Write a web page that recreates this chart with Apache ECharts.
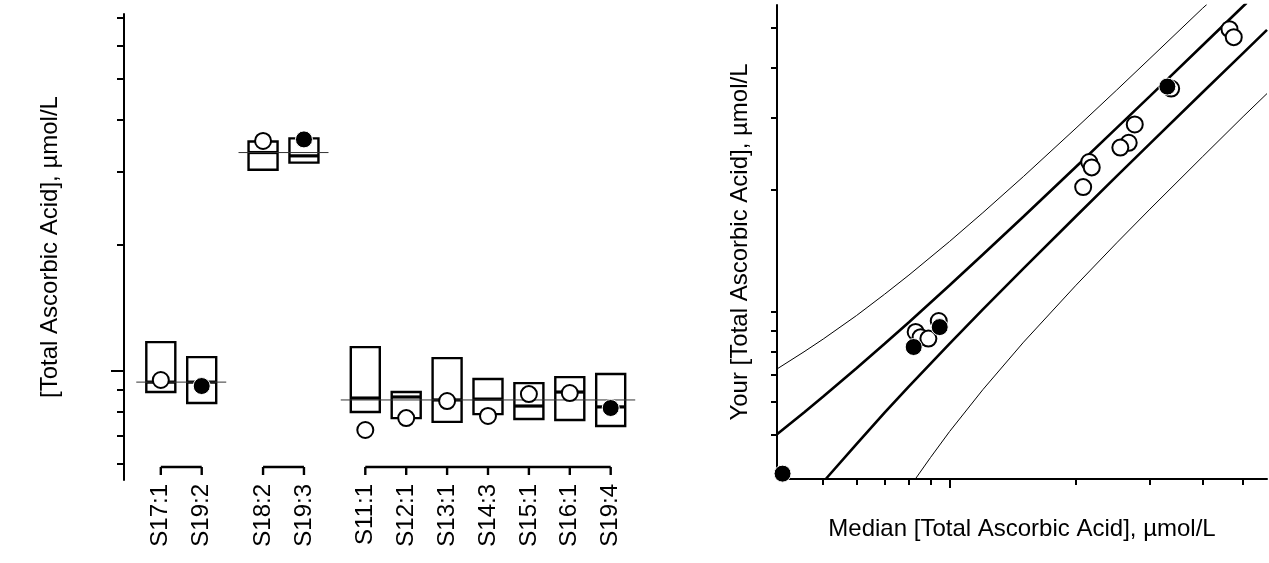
<!DOCTYPE html>
<html>
<head>
<meta charset="utf-8">
<title>Total Ascorbic Acid</title>
<script src="https://cdn.jsdelivr.net/npm/echarts@6/dist/echarts.min.js"></script>
<style>
  html, body { margin: 0; padding: 0; background: #fff; }
  #chart { width: 1269px; height: 563px; }
</style>
</head>
<body>
<div id="chart"></div>
<script>
// ---- Left panel: sample results against the community distribution ----
const categories = ['S17:1', 'S19:2', 'S18:2', 'S19:3', 'S11:1', 'S12:1', 'S13:1', 'S14:3', 'S15:1', 'S16:1', 'S19:4'];
const categoryPositions = [0, 1, 2.5, 3.5, 5, 6, 7, 8, 9, 10, 11];
const boxLow = [8.91, 8.39, 30.3, 31.5, 7.98, 7.72, 7.56, 7.89, 7.68, 7.64, 7.39];
const boxHigh = [11.73, 10.80, 35.4, 36.0, 11.41, 8.91, 10.74, 9.57, 9.36, 9.67, 9.84];
const boxMedian = [9.41, 9.41, 33.3, 32.7, 8.62, 8.67, 8.53, 8.57, 8.25, 8.91, 8.21];
const yourResult = [9.52, 9.21, 35.5, 35.8, 7.23, 7.72, 8.48, 7.81, 8.81, 8.86, 8.16];
const currentRound = [false, true, false, true, false, false, false, false, false, false, true];
// sample groups (first and last category index) and their consensus values
const groupFirst = [0, 2, 4];
const groupLast = [1, 3, 10];
const groupConsensus = [9.41, 33.3, 8.53];
const leftTicks = [6, 7, 8, 9, 20, 30, 40, 50, 60, 70];
const leftMajorTicks = [10];

// ---- Right panel: your result versus the community median ----
const pastMedian = [46.4, 47.5, 33.7, 27.6, 26.7, 25.5, 21.5, 21.8, 20.8, 8.30, 8.53, 8.90, 9.42];
const pastYours = [49.7, 47.5, 35.5, 28.96, 26.1, 25.4, 23.4, 22.7, 20.3, 8.93, 8.67, 8.60, 9.50];
const nowMedian = [33.0, 8.21, 9.47, 4.0];
const nowYours = [35.9, 8.20, 9.18, 4.0];
const upperOuter = [[3.88, 7.24], [4.5, 7.98], [5, 8.58], [6, 9.80], [7, 11.06], [8, 12.33], [10, 14.92], [12, 17.56], [15, 21.57], [20, 28.36], [25, 35.2], [30, 42.1], [40, 55.9], [41, 57.2]];
const upperInner = [[3.88, 5.0], [4.5, 5.66], [5, 6.19], [6, 7.27], [7, 8.35], [8, 9.44], [10, 11.64], [12, 13.85], [15, 17.19], [20, 22.79], [25, 28.4], [30, 34.0], [40, 45.3], [50, 56.6], [51, 57.7]];
const lowerInner = [[5.07, 3.88], [6, 4.73], [7, 5.65], [8, 6.56], [10, 8.36], [12, 10.15], [15, 12.81], [20, 17.21], [25, 21.6], [30, 25.97], [40, 34.7], [50, 43.4], [57, 49.5]];
const lowerOuter = [[8.3, 3.89], [9, 4.38], [10, 5.08], [12, 6.44], [15, 8.43], [20, 11.64], [25, 14.8], [30, 17.92], [40, 24.1], [50, 30.27], [57, 34.5]];
const rightTicks = [5, 6, 7, 8, 9, 20, 30, 40, 50];
const rightMajorTicks = [10];

const FONT = "'Liberation Sans', Arial, sans-serif";
const BLACK = '#000';
const leftMin = 5.49, leftMax = 71.4;
const rightMin = 3.88, rightMax = 57;

const boxData = categoryPositions.map((p, i) => [p, boxLow[i], boxHigh[i], boxMedian[i]]);
const consensusData = groupFirst.map((f, g) => [categoryPositions[f], categoryPositions[groupLast[g]], groupConsensus[g]]);
const bracketData = groupFirst.map((f, g) => [f, groupLast[g], leftMin]);
const openLeft = [], filledLeft = [];
categoryPositions.forEach((p, i) => (currentRound[i] ? filledLeft : openLeft).push([p, yourResult[i]]));
const openRight = pastMedian.map((m, i) => [m, pastYours[i]]);
const filledRight = nowMedian.map((m, i) => [m, nowYours[i]]);

function tickAxis(base, extra) {
  return Object.assign({}, base, extra);
}

const leftY = {
  gridIndex: 0, type: 'log', logBase: 10, min: leftMin, max: leftMax, position: 'left', offset: 0,
  axisLabel: { show: false }, splitLine: { show: false }
};
const rightScale = { type: 'log', logBase: 10, min: rightMin, max: rightMax, offset: 0, axisLabel: { show: false }, splitLine: { show: false } };
const openStyle = { color: '#fff', borderColor: BLACK, borderWidth: 2, opacity: 1 };
const filledStyle = { color: BLACK, borderColor: '#fff', borderWidth: 1, opacity: 1 };

const option = {
  animation: false,
  backgroundColor: '#fff',
  textStyle: { fontFamily: FONT, color: BLACK },
  grid: [
    { left: 124, top: 14, width: 523.5, height: 466 },
    { left: 777, top: 5, width: 490, height: 474 }
  ],
  xAxis: [
    {
      gridIndex: 0, type: 'value', min: -0.9, max: 11.9,
      axisLine: { show: false, onZero: false }, axisTick: { show: false }, splitLine: { show: false },
      axisLabel: {
        customValues: categoryPositions, rotate: 90, margin: 4,
        fontSize: 24, fontFamily: FONT, color: BLACK,
        formatter: v => categories[categoryPositions.indexOf(v)] || ''
      }
    },
    tickAxis(rightScale, {
      gridIndex: 1, position: 'bottom',
      axisLine: { show: true, onZero: false, lineStyle: { color: BLACK, width: 2 } },
      axisTick: { show: true, customValues: rightTicks, length: 6, lineStyle: { color: BLACK, width: 2 } },
      name: 'Median [Total Ascorbic Acid], µmol/L', nameLocation: 'middle', nameGap: 38,
      nameTextStyle: { fontSize: 24, fontFamily: FONT, color: BLACK }
    }),
    tickAxis(rightScale, {
      gridIndex: 1, position: 'bottom',
      axisLine: { show: false, onZero: false },
      axisTick: { show: true, customValues: rightMajorTicks, length: 9, lineStyle: { color: BLACK, width: 2 } }
    })
  ],
  yAxis: [
    tickAxis(leftY, {
      axisLine: { show: true, onZero: false, lineStyle: { color: BLACK, width: 2 } },
      axisTick: { show: true, customValues: leftTicks, length: 7, lineStyle: { color: BLACK, width: 2 } },
      name: '[Total Ascorbic Acid], µmol/L', nameLocation: 'middle', nameGap: 62,
      nameTextStyle: { fontSize: 24, fontFamily: FONT, color: BLACK }
    }),
    tickAxis(leftY, {
      axisLine: { show: false, onZero: false },
      axisTick: { show: true, customValues: leftMajorTicks, length: 13, lineStyle: { color: BLACK, width: 2 } }
    }),
    tickAxis(rightScale, {
      gridIndex: 1, position: 'left',
      axisLine: { show: true, onZero: false, lineStyle: { color: BLACK, width: 2 } },
      axisTick: { show: true, customValues: rightTicks.concat(rightMajorTicks), length: 6, lineStyle: { color: BLACK, width: 2 } },
      name: 'Your [Total Ascorbic Acid], µmol/L', nameLocation: 'middle', nameGap: 25,
      nameTextStyle: { fontSize: 24, fontFamily: FONT, color: BLACK }
    })
  ],
  series: [
    // interquartile boxes with median bar
    {
      type: 'custom', xAxisIndex: 0, yAxisIndex: 0, z: 2, silent: true,
      data: boxData,
      encode: { x: 0, y: [1, 2, 3] },
      renderItem: (params, api) => {
        const top = api.coord([api.value(0), api.value(2)]);
        const bottom = api.coord([api.value(0), api.value(1)]);
        const mid = api.coord([api.value(0), api.value(3)]);
        const hw = 14.5;
        return {
          type: 'group',
          children: [
            { type: 'rect', shape: { x: top[0] - hw, y: top[1], width: hw * 2, height: bottom[1] - top[1] },
              style: { fill: 'none', stroke: BLACK, lineWidth: 2.4 } },
            { type: 'line', shape: { x1: mid[0] - hw, y1: mid[1], x2: mid[0] + hw, y2: mid[1] },
              style: { stroke: BLACK, lineWidth: 3.2 } }
          ]
        };
      }
    },
    // consensus value across each sample group
    {
      type: 'custom', xAxisIndex: 0, yAxisIndex: 0, z: 3, silent: true,
      data: consensusData,
      encode: { x: [0, 1], y: 2 },
      renderItem: (params, api) => {
        const a = api.coord([api.value(0) - 0.6, api.value(2)]);
        const b = api.coord([api.value(1) + 0.6, api.value(2)]);
        return { type: 'line', shape: { x1: a[0], y1: a[1], x2: b[0], y2: b[1] },
          style: { stroke: '#333', lineWidth: 1 } };
      }
    },
    // brackets tying the samples of a group together
    {
      type: 'custom', xAxisIndex: 0, yAxisIndex: 0, z: 3, silent: true,
      data: bracketData,
      encode: { y: 2 },
      renderItem: (params, api) => {
        const first = api.value(0), last = api.value(1);
        const base = params.coordSys.y + params.coordSys.height;
        const yLine = base - 13, yTick = base - 5;
        const xs = [];
        for (let i = first; i <= last; i++) xs.push(api.coord([categoryPositions[i], leftMin])[0]);
        const children = [{ type: 'line', shape: { x1: xs[0], y1: yLine, x2: xs[xs.length - 1], y2: yLine },
          style: { stroke: BLACK, lineWidth: 2.4 } }];
        xs.forEach(x => children.push({ type: 'line', shape: { x1: x, y1: yLine, x2: x, y2: yTick },
          style: { stroke: BLACK, lineWidth: 2.4 } }));
        return { type: 'group', children };
      }
    },
    {
      type: 'scatter', xAxisIndex: 0, yAxisIndex: 0, z: 4, silent: true,
      symbol: 'circle', symbolSize: 16, data: openLeft, itemStyle: openStyle
    },
    {
      type: 'scatter', xAxisIndex: 0, yAxisIndex: 0, z: 5, silent: true,
      symbol: 'circle', symbolSize: 17, data: filledLeft, itemStyle: filledStyle
    },
    // acceptance limits
    ...[[upperOuter, 1], [upperInner, 2.6], [lowerInner, 2.6], [lowerOuter, 1]].map(([pts, w]) => ({
      type: 'line', xAxisIndex: 1, yAxisIndex: 2, z: 2, silent: true,
      showSymbol: false, symbol: 'none', data: pts, clip: true,
      lineStyle: { color: BLACK, width: w }
    })),
    {
      type: 'scatter', xAxisIndex: 1, yAxisIndex: 2, z: 4, silent: true,
      symbol: 'circle', symbolSize: 16, data: openRight, itemStyle: openStyle
    },
    {
      type: 'scatter', xAxisIndex: 1, yAxisIndex: 2, z: 5, silent: true,
      symbol: 'circle', symbolSize: 17, data: filledRight, itemStyle: filledStyle
    }
  ]
};

const chart = echarts.init(document.getElementById('chart'), null, { renderer: 'canvas' });
chart.setOption(option);
</script>
</body>
</html>
